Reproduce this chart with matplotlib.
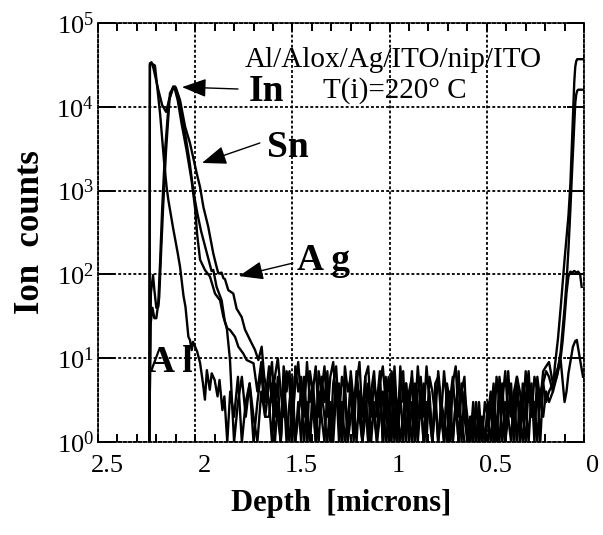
import numpy as np
import matplotlib.pyplot as plt
import matplotlib.transforms as mtransforms
from matplotlib.ticker import MultipleLocator, NullLocator, FormatStrFormatter

plt.rcParams['font.family'] = 'Liberation Serif'
plt.rcParams['mathtext.fontset'] = 'custom'
plt.rcParams['mathtext.rm'] = 'Liberation Serif'

# ---- data (depth in microns, ion counts) ----
# buried side (left part of the profile)
in_depth_l = [2.236, 2.233, 2.225, 2.215, 2.19, 2.17, 2.15, 2.13, 2.113, 2.104, 2.09,
              2.07, 2.044, 2.018, 2.0, 1.99, 1.975, 1.95, 1.924, 1.898, 1.872, 1.855,
              1.838, 1.821, 1.812, 1.80, 1.78, 1.76, 1.74, 1.72, 1.70, 1.68, 1.66, 1.64]
in_counts_l = [1, 3.3e4, 3.4e4, 2.9e4, 1.6e4, 1.05e4, 8.7e3, 1.3e4, 1.75e4, 1.6e4, 1.2e4,
               6.3e3, 3.0e3, 1.3e3, 600, 300, 150, 113, 94, 59, 49, 31,
               23.7, 9.5, 3.5, 1, 3, 6, 2, 5, 1, 3, 7, 2]

sn_depth_l = [2.236, 2.228, 2.217, 2.21, 2.20, 2.19, 2.185, 2.175, 2.165, 2.15, 2.13,
              2.113, 2.104, 2.09, 2.075, 2.05, 2.03, 2.01, 1.99, 1.97, 1.94, 1.916,
              1.907, 1.89, 1.864, 1.847, 1.838, 1.821, 1.795, 1.778, 1.753, 1.735,
              1.70, 1.68, 1.66, 1.64]
sn_counts_l = [1, 60, 98, 65, 40, 41, 54, 195, 640, 3.0e3, 1.45e4,
               1.7e4, 1.75e4, 1.4e4, 9e3, 4.5e3, 2.3e3, 1.0e3, 550, 330, 180, 110,
               113, 71, 49, 27, 23, 21.7, 18, 13.7, 11.4, 9.5,
               8.7, 4, 9, 3]

ag_depth_l = [2.236, 2.23, 2.22, 2.21, 2.20, 2.19, 2.18, 2.17, 2.155, 2.135, 2.115,
              2.10, 2.078, 2.052, 2.027, 1.992, 1.975, 1.958, 1.933, 1.907, 1.89,
              1.881, 1.864, 1.855, 1.847, 1.83, 1.804, 1.787, 1.761, 1.744, 1.718,
              1.692, 1.675, 1.658, 1.645]
ag_counts_l = [1, 25, 40, 30, 30, 45, 150, 600, 3e3, 1.2e4, 1.65e4,
               1.7e4, 1.2e4, 5.8e3, 3.7e3, 1.6e3, 1.1e3, 640, 370, 178, 123,
               103, 105, 90, 88, 65, 59, 39, 31, 22, 16.5,
               12.5, 9.5, 13.7, 6]

al_depth_l = [2.236, 2.233, 2.225, 2.207, 2.18, 2.16, 2.147, 2.138, 2.113, 2.09, 2.078,
              2.06, 2.05, 2.035, 2.027, 2.018, 2.011, 1.99, 1.975, 1.96, 1.95, 1.94,
              1.925, 1.915, 1.90, 1.885, 1.875, 1.86, 1.85, 1.835, 1.82, 1.80, 1.78,
              1.76, 1.74, 1.72, 1.70, 1.68, 1.66, 1.64]
al_counts_l = [1, 3.2e4, 3.3e4, 3.1e4, 8e3, 2.2e3, 1.1e3, 770, 350, 180, 123,
               55, 41, 18, 16.5, 12.5, 15.7, 12, 8.8, 5, 3.2, 7.2,
               4.2, 6.6, 5.5, 3.5, 5.5, 2.4, 3.5, 1, 4, 2, 6,
               1, 3, 5, 2, 1, 4, 2]

# nip region: background counts on a common depth grid
noise_depth = np.linspace(1.62, 0.18, 97)
in_noise = [5, 9, 2, 6, 1, 8, 4, 7, 2, 5, 9, 3, 6, 1, 7, 4, 8, 2, 6, 3,
            7, 1, 5, 8, 2, 6, 4, 1, 7, 3, 5, 9, 2, 6, 1, 4, 7, 2, 5, 8,
            3, 6, 1, 8, 2, 5, 7, 1, 4, 6, 2, 8, 3, 5, 1, 6, 4, 2, 7, 3,
            1, 5, 3, 6, 2, 7, 1, 4, 2, 1, 3, 1, 2, 1, 3, 2, 4, 1, 6, 3,
            5, 1, 7, 2, 4, 6, 1, 5, 3, 7, 2, 6, 4, 1, 5, 7, 6]
sn_noise = [8, 3, 6, 10, 4, 2, 7, 5, 1, 8, 4, 6, 2, 9, 3, 5, 1, 7, 4, 8,
            2, 6, 9, 3, 5, 1, 8, 4, 6, 2, 7, 3, 1, 6, 8, 2, 5, 3, 7, 1,
            6, 2, 7, 4, 1, 8, 3, 5, 2, 7, 1, 4, 6, 2, 8, 3, 1, 5, 6, 2,
            7, 3, 1, 5, 8, 2, 4, 6, 1, 2, 1, 3, 1, 2, 1, 3, 2, 5, 1, 6,
            3, 7, 2, 5, 1, 6, 4, 2, 7, 3, 5, 1, 6, 3, 7, 8, 9]
ag_noise = [3, 1, 5, 2, 1, 4, 1, 3, 6, 1, 2, 4, 1, 3, 1, 5, 2, 1, 4, 2,
            1, 3, 1, 4, 2, 1, 5, 1, 2, 3, 1, 4, 1, 2, 5, 1, 3, 1, 2, 4,
            1, 2, 4, 1, 3, 1, 2, 5, 1, 3, 1, 2, 4, 1, 3, 2, 1, 4, 1, 3,
            2, 1, 4, 1, 3, 1, 2, 1, 1, 2, 1, 1, 3, 1, 1, 2, 1, 3, 1, 4,
            1, 3, 2, 1, 4, 1, 3, 2, 1, 5, 2, 3, 1, 4, 5, 3, 4]
al_noise = [2, 5, 1, 3, 1, 6, 2, 1, 4, 1, 3, 1, 5, 2, 1, 3, 1, 4, 2, 1,
            4, 1, 2, 5, 1, 3, 1, 2, 4, 1, 6, 2, 1, 3, 1, 4, 2, 1, 5, 1,
            3, 1, 5, 2, 1, 4, 1, 3, 2, 1, 5, 1, 3, 1, 2, 4, 1, 3, 1, 2,
            1, 4, 2, 1, 3, 1, 5, 2, 1, 1, 2, 1, 1, 2, 1, 1, 3, 1, 2, 1,
            4, 1, 2, 3, 1, 5, 2, 1, 3, 1, 4, 2, 5, 3, 2, 4, 3]

# surface side (right part of the profile)
in_depth_r = [0.16, 0.15, 0.134, 0.12, 0.10, 0.08, 0.07, 0.06, 0.055, 0.05, 0.045,
              0.04, 0.035, 0.03, 0.02, 0.01, 0.004]
in_counts_r = [4, 8, 17, 40, 150, 500, 1.2e3, 5e3, 1.1e4, 2.0e4, 3.0e4,
               3.5e4, 3.7e4, 3.7e4, 3.7e4, 3.7e4, 3.7e4]
sn_depth_r = [0.16, 0.14, 0.12, 0.10, 0.09, 0.08, 0.07, 0.06, 0.05, 0.045, 0.04,
              0.035, 0.03, 0.02, 0.01, 0.004]
sn_counts_r = [5, 6, 12, 40, 80, 200, 600, 2e3, 6e3, 1.1e4, 1.4e4,
               1.55e4, 1.6e4, 1.6e4, 1.6e4, 1.6e4]
ag_depth_r = [0.16, 0.14, 0.12, 0.11, 0.10, 0.09, 0.08, 0.07, 0.06, 0.05, 0.04,
              0.03, 0.02, 0.012]
ag_counts_r = [5, 7, 10, 16, 30, 60, 95, 108, 105, 110, 105, 108, 100, 71]
al_depth_r = [0.16, 0.14, 0.12, 0.10, 0.09, 0.08, 0.07, 0.057, 0.045, 0.037, 0.02, 0.005]
al_counts_r = [4, 6, 9.5, 3, 4, 6.6, 9, 13.7, 16, 16.5, 9.5, 6]

profiles = {
    'In': (in_depth_l, in_counts_l, in_noise, in_depth_r, in_counts_r),
    'Sn': (sn_depth_l, sn_counts_l, sn_noise, sn_depth_r, sn_counts_r),
    'Ag': (ag_depth_l, ag_counts_l, ag_noise, ag_depth_r, ag_counts_r),
    'Al': (al_depth_l, al_counts_l, al_noise, al_depth_r, al_counts_r),
}

fig = plt.figure(figsize=(6.03, 5.35), dpi=100)
ax = fig.add_axes([98 / 603, 93 / 535, 486 / 603, 419 / 535])

for name, (dl, cl, cn, dr, cr) in profiles.items():
    depth = np.concatenate([dl, noise_depth, dr])
    counts = np.concatenate([cl, cn, cr])
    ax.plot(depth, counts, color='k', lw=1.7)

ax.set_yscale('log')
ax.set_ylim(1, 1e5)
ax.set_xlim(2.5, 0)
ax.yaxis.set_minor_locator(NullLocator())
ax.xaxis.set_major_locator(MultipleLocator(0.5))
ax.xaxis.set_minor_locator(MultipleLocator(0.1))
ax.xaxis.set_major_formatter(FormatStrFormatter('%g'))

dots = (0, (1.6, 1.2))
ax.grid(True, which='major', color='k', lw=1.3, ls=dots)
for sp in ax.spines.values():
    sp.set_linestyle(dots)
    sp.set_linewidth(1.3)

ax.tick_params(axis='x', which='both', direction='in', top=True, bottom=True,
               length=6, width=1.4, labelsize=19, pad=9)
ax.tick_params(axis='y', which='major', direction='in', left=True, right=True,
               length=12, width=1.4, labelsize=19, pad=3)

# x tick labels sit a little right of their ticks in the original
shift = mtransforms.ScaledTranslation(9 / 100, 0, fig.dpi_scale_trans)
for lbl in ax.get_xticklabels():
    lbl.set_transform(lbl.get_transform() + shift)

ax.set_xlabel('Depth  [microns]', fontsize=22, fontweight='bold', labelpad=9)
ax.set_ylabel('Ion  counts', fontsize=25, fontweight='bold', labelpad=7)

ax.text(0.6077, 0.8957, 'Al/Alox/Ag/ITO/nip/ITO', transform=ax.transAxes,
        ha='center', va='baseline', fontsize=21)
ax.text(0.611, 0.821, 'T(i)=220\u00b0 C', transform=ax.transAxes,
        ha='center', va='baseline', fontsize=21)

arrow = dict(arrowstyle='-|>,head_length=1.0,head_width=0.38', color='k', lw=1,
             shrinkA=0, shrinkB=0, mutation_scale=15)
labels = [('In', (0.346, 0.814), (0.1728, 0.847), (0.288, 0.8425)),
          ('Sn', (0.390, 0.681), (0.214, 0.666), (0.333, 0.7136)),
          ('A g', (0.465, 0.4105), (0.290, 0.396), (0.401, 0.427)),
          ('A l', (0.148, 0.168), None, None)]
for txt, pos, tip, tail in labels:
    ax.text(pos[0], pos[1], txt, transform=ax.transAxes, ha='center', va='baseline',
            fontsize=27, fontweight='bold')
    if tip is not None:
        ax.annotate('', xy=tip, xytext=tail, xycoords='axes fraction',
                    textcoords='axes fraction', arrowprops=arrow)

fig.savefig('out.png', dpi=100)
